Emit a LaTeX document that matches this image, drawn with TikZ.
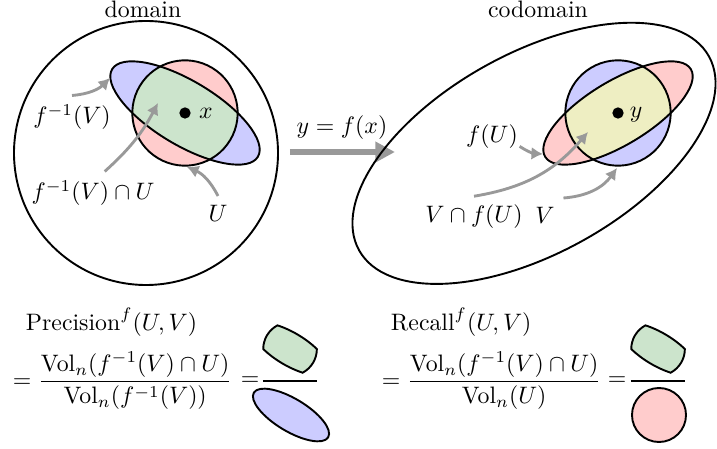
\documentclass[tikz,border=0pt]{standalone}
\usepackage{amsmath}
\usetikzlibrary{arrows.meta}
\definecolor{setblue}{RGB}{204,204,255}
\definecolor{setred}{RGB}{255,204,204}
\definecolor{setgreen}{RGB}{204,228,204}
\definecolor{setyellow}{RGB}{238,238,194}
\tikzset{
  % circle r=0.79 cut with ellipse 1.275 x 0.48, same centre
  lens/.style={insert path={(-31:0.79) arc[start angle=-31,end angle=31,radius=0.79]
    arc[start angle=58,end angle=122,x radius=1.275,y radius=0.48]
    arc[start angle=149,end angle=211,radius=0.79]
    arc[start angle=238,end angle=302,x radius=1.275,y radius=0.48] -- cycle}},
  grayarrow/.style={->,black!40,line width=1.2pt,>={Latex[length=1.7mm,width=1.9mm]}},
  bigarrow/.style={-{Triangle[length=2.9mm,width=2.9mm]},black!40,line width=2.6pt},
}

\begin{document}
\begin{tikzpicture}[scale=0.985,line width=0.8pt]
  \useasboundingbox (0,0) rectangle (10.755,6.72);
  % dominio
  \draw (2.19,4.425) circle (1.98);
  \node[anchor=base] (dom) at (2.145,6.46) {domain};
  \begin{scope}[shift={(2.775,5.025)},rotate=-31]
    \fill[setblue] (0,0) ellipse (1.275 and 0.48);
    \fill[setred] (0,0) circle (0.79);
    \fill[setgreen,lens];
    \draw (0,0) ellipse (1.275 and 0.48);
    \draw (0,0) circle (0.79);
  \end{scope}
  \fill (2.775,5.025) circle (0.085);
  \node (xlab) at (3.09,5.025) {$x$};
  % etiquetas dominio
  \node (finv) at (1.08,4.965) {$f^{-1}(V)$};
  \node (cap) at (1.395,3.825) {$f^{-1}(V)\cap U$};
  \node (Ulab) at (3.27,3.525) {$U$};
  \coordinate (tfinv) at (1.65,5.55);
  \coordinate (tcap) at (2.37,5.175);
  \coordinate (tU) at (2.805,4.215);
  \draw[grayarrow] (finv.north) to[bend right=20] (tfinv);
  \draw[grayarrow] ([xshift=5pt]cap.north) to[bend right=10] (tcap);
  \draw[grayarrow] (Ulab.north) to[bend right=20] (tU);
  % flecha f
  \coordinate (mapL) at (4.35,4.44);
  \coordinate (mapR) at (5.925,4.44);
  \draw[bigarrow] (mapL) -- (mapR);
  \node (fmap) at (5.13,4.8) {$y=f(x)$};
  % codominio
  \draw[rotate around={29:(8.01,4.42)}] (8.01,4.42) ellipse (3.0 and 1.5);
  \node[anchor=base] (codom) at (8.07,6.46) {codomain};
  \begin{scope}[shift={(9.27,5.025)},rotate=31]
    \fill[setred] (0,0) ellipse (1.275 and 0.48);
    \fill[setblue] (0,0) circle (0.79);
    \fill[setyellow,lens];
    \draw (0,0) ellipse (1.275 and 0.48);
    \draw (0,0) circle (0.79);
  \end{scope}
  \fill (9.27,5.025) circle (0.085);
  \node (ylab) at (9.54,5.0) {$y$};
  % etiquetas codominio
  \node (fU) at (7.38,4.665) {$f(U)$};
  \node (VfU) at (7.11,3.465) {$V\cap f(U)$};
  \node (Vlab) at (8.175,3.495) {$V$};
  \coordinate (tfU) at (8.145,4.41);
  \coordinate (tVfU) at (8.82,4.74);
  \coordinate (tV) at (9.255,4.2);
  \draw[grayarrow] ([xshift=-3pt,yshift=-4pt]fU.east) to[bend right=15] (tfU);
  \draw[grayarrow] (VfU.north) to[bend right=20] (tVfU);
  \draw[grayarrow] (Vlab.north east) to[bend right=25] (tV);
  % precision
  \node[anchor=base west,inner sep=0] (prec) at (0.375,1.77) {$\text{Precision}^f(U,V)$};
  \node[anchor=west,inner sep=0] (precfrac) at (0.18,1.005)
    {$=\dfrac{\mathrm{Vol}_n(f^{-1}(V)\cap U)}{\mathrm{Vol}_n(f^{-1}(V))}$};
  \node (preceq) at (3.75,1.005) {$=$};
  \coordinate (pbarL) at (3.945,1.005);
  \coordinate (pbarR) at (4.755,1.005);
  \draw[line width=1pt] (pbarL) -- (pbarR);
  \begin{scope}[shift={(4.35,1.485)},rotate=-31,scale=0.51]
    \filldraw[fill=setgreen,lens];
  \end{scope}
  \filldraw[fill=setblue,rotate around={-31:(4.365,0.495)}] (4.365,0.495) ellipse (0.65 and 0.245);
  % recall
  \node[anchor=base west,inner sep=0] (rec) at (5.85,1.77) {$\text{Recall}^f(U,V)$};
  \node[anchor=west,inner sep=0] (recfrac) at (5.715,1.005)
    {$=\dfrac{\mathrm{Vol}_n(f^{-1}(V)\cap U)}{\mathrm{Vol}_n(U)}$};
  \node (receq) at (9.255,1.005) {$=$};
  \coordinate (rbarL) at (9.465,1.005);
  \coordinate (rbarR) at (10.275,1.005);
  \draw[line width=1pt] (rbarL) -- (rbarR);
  \begin{scope}[shift={(9.87,1.485)},rotate=-31,scale=0.51]
    \filldraw[fill=setgreen,lens];
  \end{scope}
  \filldraw[fill=setred] (9.885,0.495) circle (0.405);
\end{tikzpicture}
\end{document}
